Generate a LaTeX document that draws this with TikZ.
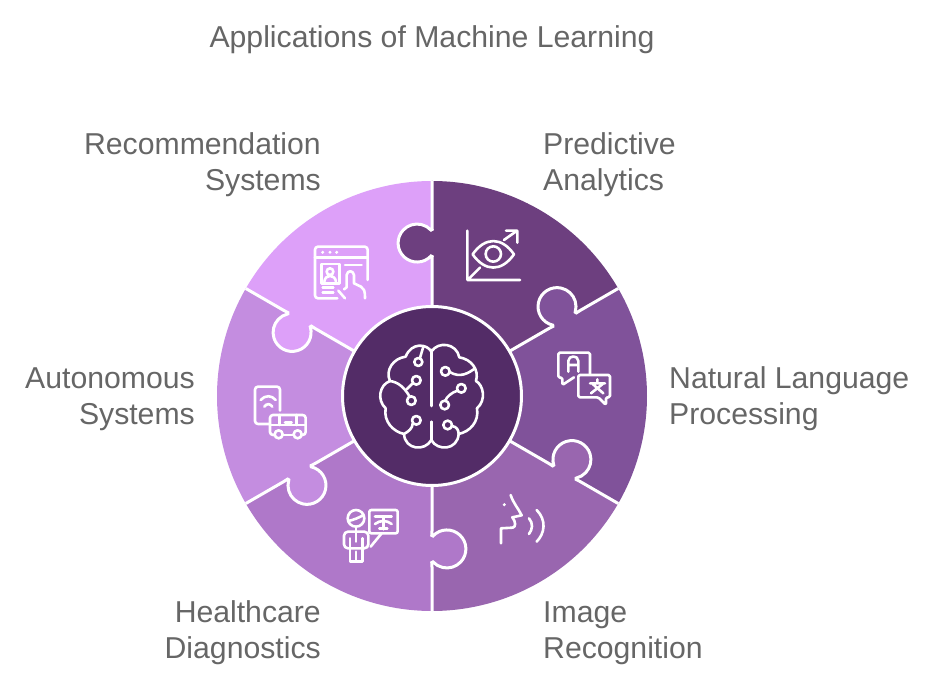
\documentclass[tikz,border=0pt]{standalone}
\usepackage{fontspec}
\setmainfont{Liberation Sans}
\definecolor{predcol}{HTML}{6D3F7F}
\definecolor{langcol}{HTML}{80529A}
\definecolor{imgcol}{HTML}{9966AF}
\definecolor{healthcol}{HTML}{AF78C9}
\definecolor{autocol}{HTML}{C48DE0}
\definecolor{reccol}{HTML}{DDA0F9}
\definecolor{hubcol}{HTML}{532C67}
\definecolor{textcol}{HTML}{666666}
\tikzset{
  lbl/.style={text=textcol,inner sep=0pt,font=\fontsize{30.2}{36}\selectfont},
  icon/.style={white,line width=2.6pt,line cap=round,line join=round},
  % crop origin in the picture, coordinates in thirds of a pixel
  crop/.style 2 args={shift={(#1pt-432pt,396pt-#2pt)},x=0.3333pt,y=-0.3333pt,icon}
}
\begin{document}
\begin{tikzpicture}[x=1pt,y=1pt]
\useasboundingbox (-432,-288) rectangle (504,396);

% sectors
\foreach \ang/\col in {90/predcol,30/langcol,-30/imgcol,-90/healthcol,-150/autocol,150/reccol}
  \fill[\col] (0,0) -- (\ang:215) arc[start angle=\ang,delta angle=-60,radius=215] -- cycle;

% puzzle edges, knob takes the colour of the sector clockwise of the edge
\foreach \ang/\col in {90/predcol,30/langcol,-30/imgcol,-90/healthcol,-150/autocol,150/reccol}{
  \fill[rotate=\ang,\col] (140,-3) -- (140,1)
    arc[start angle=227,delta angle=-274,radius=19] -- (166,-3) -- cycle;
  \draw[rotate=\ang,white,line width=3pt]
    (80,0) -- (135,0) .. controls (139,0) and (141,-1) .. (140,1)
    arc[start angle=227,delta angle=-274,radius=19]
    .. controls (165,-1) and (167,0) .. (171,0) -- (215,0);
}

\node[circle,fill=hubcol,draw=white,line width=3pt,minimum size=179pt,inner sep=0pt] (hub) at (0,0) {};

% brain
\begin{scope}[crop={340}{300}]
\draw (274,150) -- (274,318) (274,365) -- (274,420);
\draw (274,155) .. controls (262,132) and (215,125) .. (197,170)
  .. controls (160,175) and (135,210) .. (150,243)
  .. controls (118,255) and (110,300) .. (137,325)
  .. controls (130,365) and (160,395) .. (192,402)
  .. controls (195,450) and (255,455) .. (274,420)
  .. controls (293,455) and (353,450) .. (356,402)
  .. controls (390,395) and (418,365) .. (411,325)
  .. controls (440,300) and (430,255) .. (408,243)
  .. controls (418,210) and (395,178) .. (358,172)
  .. controls (350,130) and (295,122) .. (274,155);
\draw (235,186) circle (12) (229,241) circle (13) (214,302) circle (13) (229,361) circle (13);
\draw (316,214) circle (13) (364,265) circle (13) (314,315) circle (13) (323,375) circle (13);
\draw (240,174) -- (250,140);
\draw (218,250) -- (200,268);
\draw (148,243) .. controls (175,245) and (195,265) .. (209,290);
\draw (218,371) .. controls (218,385) and (205,395) .. (192,402);
\draw (329,216) .. controls (360,235) and (385,220) .. (405,205);
\draw (352,272) .. controls (335,278) and (320,290) .. (316,302);
\draw (336,378) .. controls (350,380) and (356,390) .. (356,402);
\end{scope}

% eye on a chart
\begin{scope}[crop={300}{200}]
\draw (502,92) -- (502,240) -- (660,240) (508,235) -- (540,203);
\draw (612,120) -- (650,93) (618,92) -- (652,92) -- (652,128);
\draw (518,163) .. controls (555,110) and (605,110) .. (642,163)
  .. controls (605,216) and (555,216) .. cycle;
\draw (580,162) circle (23);
\end{scope}

% window with hand
\begin{scope}[crop={300}{200}]
\draw[rounded corners=3] (203,240) -- (203,140) -- (45,140) -- (45,295) -- (112,295);
\draw (45,172) -- (203,172) (135,195) -- (185,195);
\fill (68,157) circle (5) (90,157) circle (5) (110,157) circle (5);
\draw (65,192) rectangle (118,250);
\draw (90,215) circle (10) (73,245) .. controls (75,222) and (105,222) .. (108,245);
\draw (68,262) -- (100,262) (68,278) -- (100,278);
\draw (140,262) -- (140,225) .. controls (142,210) and (160,210) .. (162,225) -- (162,250)
  -- (183,260) .. controls (192,265) and (195,272) .. (195,295);
\draw (140,262) -- (132,268) (115,272) -- (135,295);
\end{scope}

% translation bubbles
\begin{scope}[crop={510}{280}]
\draw[rounded corners=1.5] (192,292) -- (157,315) -- (157,293) -- (145,293) -- (145,218) -- (240,218) -- (240,283);
\draw (175,275) -- (175,243) .. controls (175,225) and (205,225) .. (205,243) -- (205,275) (175,255) -- (205,255);
\draw[rounded corners=1.5] (205,285) -- (300,285) -- (300,352) -- (288,352) -- (288,375) -- (265,352) -- (205,352) -- cycle;
\draw (240,310) -- (285,310) (262,298) -- (262,310) (248,312) -- (280,340) (278,312) -- (243,340);
\end{scope}

% speaking head
\begin{scope}[crop={330}{440}]
\draw (542,165) .. controls (550,190) and (565,205) .. (575,226) -- (547,232)
  .. controls (558,245) and (558,262) .. (548,263) -- (513,265) -- (513,310);
\fill (523,194) circle (5);
\draw (597,235) .. controls (610,250) and (608,268) .. (597,282);
\draw (620,210) .. controls (650,240) and (645,280) .. (620,305);
\end{scope}

% doctor with x-ray
\begin{scope}[crop={330}{440}]
\draw (78,235) circle (25) (55,243) .. controls (70,240) and (90,232) .. (100,225);
\draw[rounded corners=4] (42,325) -- (42,275) -- (115,275) -- (115,325) -- cycle;
\draw (78,262) -- (78,305) (60,295) -- (60,365) -- (98,365) -- (98,295) (78,335) -- (78,365);
\draw[rounded corners=2] (118,210) rectangle (203,280);
\draw (135,230) -- (185,230) (160,230) -- (160,268) (148,265) -- (172,265);
\draw (135,252) .. controls (150,240) and (170,240) .. (185,252);
\draw (155,280) -- (122,320);
\end{scope}

% phone and bus
\begin{scope}[crop={230}{280}]
\draw[rounded corners=3] (150,392) -- (150,320) -- (75,320) -- (75,432) -- (120,432);
\draw (92,360) .. controls (105,345) and (125,345) .. (137,360);
\draw (103,380) .. controls (110,370) and (120,370) .. (127,380);
\draw[rounded corners=3] (133,465) -- (120,465) -- (120,405) -- (227,405) -- (227,465) -- (215,465);
\draw (158,465) -- (191,465);
\draw (146,463) circle (12) (203,463) circle (12);
\draw (120,435) -- (227,435) (148,405) -- (148,435) (200,405) -- (200,435) (165,428) -- (185,428);
\end{scope}

% labels
\node[lbl] (title) at (0,356.5) {Applications of Machine Learning};
\node[lbl,anchor=east,align=right] (rec) at (-111,231) {Recommendation\\Systems};
\node[lbl,anchor=west,align=left] (pred) at (111,231) {Predictive\\Analytics};
\node[lbl,anchor=west,align=left] (lang) at (237,-3) {Natural Language\\Processing};
\node[lbl,anchor=east,align=right] (auto) at (-237,-3) {Autonomous\\Systems};
\node[lbl,anchor=east,align=right] (health) at (-111,-237) {Healthcare\\Diagnostics};
\node[lbl,anchor=west,align=left] (img) at (111,-237) {Image\\Recognition};
\end{tikzpicture}
\end{document}
